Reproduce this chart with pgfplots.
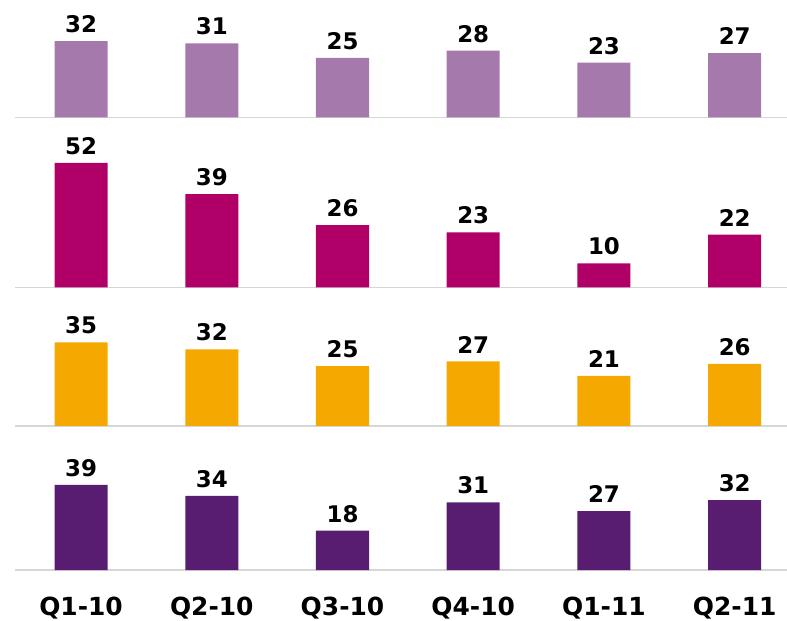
\documentclass[border=0pt]{standalone}
\usepackage{fontspec}
\setmainfont{DejaVu Sans}
\usepackage{pgfplots}
\pgfplotsset{compat=1.18}
\definecolor{lilac}{HTML}{A679AC}
\definecolor{berry}{HTML}{B00068}
\definecolor{amber}{HTML}{F5A800}
\definecolor{plum}{HTML}{581D70}
\definecolor{linegray}{HTML}{D6D6D6}
\newcommand{\valfont}{\fontsize{23}{27}\selectfont\bfseries}
\newcommand{\catfont}{\fontsize{25}{30}\selectfont\bfseries}
\pgfplotsset{panel/.style={
    ybar, scale only axis, width=772bp, xmin=-0.505, xmax=5.4, ymin=0,
    bar width=53bp, axis y line=none, axis x line*=bottom,
    x axis line style={draw=linegray, line width=1.5bp},
    xtick=\empty, major tick length=0, clip=false,
    /pgf/number format/assume math mode=true,
    nodes near coords,
    nodes near coords style={font=\valfont, text=black, anchor=south, inner sep=8bp},
    anchor=south west}}

\begin{document}
\begin{tikzpicture}
% top panel
\begin{axis}[panel, at={(15bp,503.5bp)}, height=117.5bp, ymax=49.2]
  \addplot[fill=lilac, draw=none] coordinates {(0,32) (1,31) (2,25) (3,28) (4,23) (5,27)};
\end{axis}
\begin{axis}[panel, at={(15bp,333.7bp)}, height=169.8bp, ymax=71]
  \addplot[fill=berry, draw=none] coordinates {(0,52) (1,39) (2,26) (3,23) (4,10) (5,22)};
\end{axis}
\begin{axis}[panel, at={(15bp,195bp)}, height=138.7bp, ymax=58]
  \addplot[fill=amber, draw=none] coordinates {(0,35) (1,32) (2,25) (3,27) (4,21) (5,26)};
\end{axis}
% bottom panel carries the quarter labels
\begin{axis}[panel, at={(15bp,51bp)}, height=144bp, ymax=66,
    xtick={0,1,2,3,4,5},
    xticklabels={Q1-10,Q2-10,Q3-10,Q4-10,Q1-11,Q2-11},
    xticklabel style={font=\catfont, yshift=-23bp}]
  \addplot[fill=plum, draw=none] coordinates {(0,39) (1,34) (2,18) (3,31) (4,27) (5,32)};
\end{axis}
\pgfresetboundingbox
\useasboundingbox (0,0) rectangle (787bp,621bp);
\end{tikzpicture}
\end{document}
